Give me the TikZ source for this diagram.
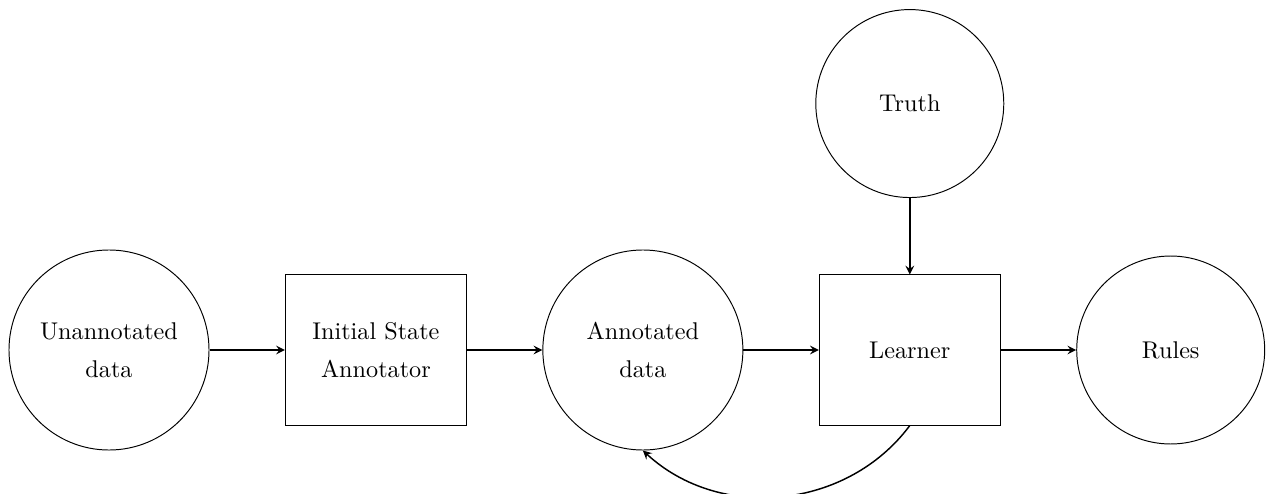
\documentclass[tikz,border=0pt]{standalone}
\usetikzlibrary{positioning}
\begin{document}
\begin{tikzpicture}[node distance=1.095cm,>=stealth,
  datacirc/.style={draw,circle,align=center,minimum size=2.73cm},
  bigcirc/.style={datacirc,minimum size=2.905cm},
  procbox/.style={draw,rectangle,align=center,minimum width=2.63cm,minimum height=2.18cm},
  link/.style={->,semithick}]
\useasboundingbox (-1.583,-2.077) rectangle (16.861,5.083);
\node[bigcirc] (unann) at (0,0) {Unannotated\\[3.7pt]data};
\node[procbox,right=of unann] (isa) {Initial State\\[3.7pt]Annotator};
\node[bigcirc,right=of isa] (ann) {Annotated\\[3.7pt]data};
\node[procbox,right=of ann] (learner) {Learner};
\node[datacirc,right=of learner] (rules) {Rules};
\node[datacirc,above=1.11cm of learner] (truth) {Truth};
\draw[link] (unann) -- (isa);
\draw[link] (isa) -- (ann);
\draw[link] (ann) -- (learner);
\draw[link] (learner) -- (rules);
\draw[link] (truth) -- (learner);
\draw[link] (learner.south) to[bend left=48] (ann.south);
\end{tikzpicture}
\end{document}
